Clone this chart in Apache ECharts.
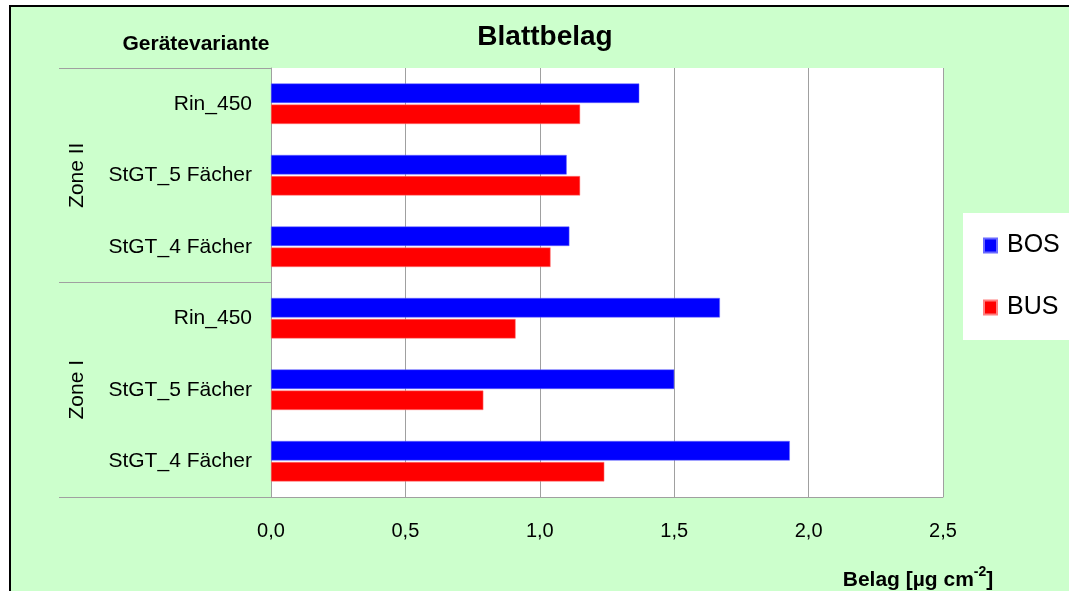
<!DOCTYPE html>
<html>
<head>
<meta charset="utf-8">
<script src="https://cdn.jsdelivr.net/npm/echarts@6/dist/echarts.min.js"></script>
<style>
  html, body { margin: 0; padding: 0; background: #ffffff; overflow: hidden; }
  #wrap { position: absolute; left: 9px; top: 5px; width: 1070px; height: 600px;
          border-left: 2px solid #000; border-top: 2px solid #000; background: #ccffcc; }
  #chart { position: absolute; left: 0; top: 0; width: 1058px; height: 584px; }
</style>
</head>
<body>
<div id="wrap"><div id="chart"></div></div>
<script>
// categories, top to bottom
const categories = ['Rin_450', 'StGT_5 Fächer', 'StGT_4 Fächer', 'Rin_450', 'StGT_5 Fächer', 'StGT_4 Fächer'];
const zones = ['Zone II', 'Zone I'];
const seriesNames = ['BOS', 'BUS'];
const bosValues = [1.37, 1.10, 1.11, 1.67, 1.50, 1.93];
const busValues = [1.15, 1.15, 1.04, 0.91, 0.79, 1.24];
const xTicks = [0, 0.5, 1.0, 1.5, 2.0, 2.5];

const FONT = 'Liberation Sans, Arial, sans-serif';
const GRAY = '#a0a0a0';
const catKeys = categories.map((c, i) => i + '|' + c);

const chart = echarts.init(document.getElementById('chart'), null, { renderer: 'canvas' });
chart.setOption({
  animation: false,
  backgroundColor: 'transparent',
  textStyle: { fontFamily: FONT },
  graphic: [
    { type: 'text', x: 534, y: 30, style: { text: 'Blattbelag', font: 'bold 28px ' + FONT, fill: '#000', textAlign: 'center', textVerticalAlign: 'middle' } },
    { type: 'text', x: 185, y: 37, style: { text: 'Gerätevariante', font: 'bold 21px ' + FONT, fill: '#000', textAlign: 'center', textVerticalAlign: 'middle' } },
    { type: 'text', x: 907, y: 571, style: {
        text: '{b|Belag [µg cm}{s|-2}{b|]}', textAlign: 'center', textVerticalAlign: 'middle',
        rich: {
          b: { fontFamily: FONT, fontSize: 21, fontWeight: 'bold', fill: '#000', lineHeight: 26, verticalAlign: 'bottom' },
          s: { fontFamily: FONT, fontSize: 14, fontWeight: 'bold', fill: '#000', lineHeight: 14, verticalAlign: 'top' }
        } } }
  ],
  legend: {
    orient: 'vertical', left: 952, top: 206,
    backgroundColor: '#ffffff',
    padding: [20, 60, 20, 20],
    itemGap: 37, itemWidth: 13, itemHeight: 14,
    icon: 'rect',
    textStyle: { fontFamily: FONT, fontSize: 25, color: '#000', padding: [0, 0, 0, 5] },
    data: seriesNames
  },
  grid: { left: 260, top: 61, width: 672, height: 429, backgroundColor: '#ffffff', show: true, borderWidth: 0 },
  xAxis: {
    type: 'value', min: 0, max: 2.5, interval: 0.5,
    axisLine: { show: true, lineStyle: { color: GRAY, width: 1 } },
    axisTick: { show: false },
    splitLine: { show: true, lineStyle: { color: GRAY, width: 1 } },
    axisLabel: { fontFamily: FONT, fontSize: 20, color: '#000', margin: 24,
      formatter: v => v.toFixed(1).replace('.', ',') }
  },
  yAxis: [
    {
      type: 'category', data: catKeys, inverse: true,
      axisLine: { show: true, lineStyle: { color: GRAY, width: 1 } },
      axisTick: { show: false },
      axisLabel: { fontFamily: FONT, fontSize: 21, color: '#000', margin: 19,
        formatter: v => v.split('|')[1] }
    },
    {
      type: 'category', data: zones, inverse: true, position: 'left', offset: 212,
      axisLine: { show: false },
      axisTick: { show: true, inside: true, length: 212, lineStyle: { color: GRAY, width: 1 } },
      axisLabel: { inside: true, rotate: 90, fontFamily: FONT, fontSize: 21, color: '#000', margin: 8 }
    }
  ],
  series: [
    { name: seriesNames[0], type: 'bar', yAxisIndex: 0, data: bosValues, barWidth: 19.5, barGap: '8%',
      itemStyle: { color: '#0000ff', borderColor: '#6a6aff', borderWidth: 0.5 } },
    { name: seriesNames[1], type: 'bar', yAxisIndex: 0, data: busValues, barWidth: 19.5, barGap: '8%',
      itemStyle: { color: '#ff0000', borderColor: '#ff8080', borderWidth: 0.5 } }
  ]
});
</script>
</body>
</html>
